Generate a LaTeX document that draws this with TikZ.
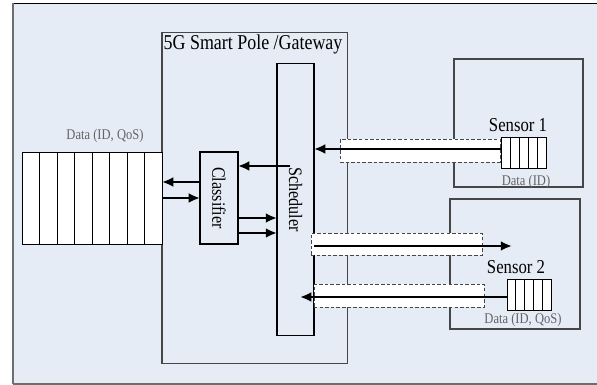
\documentclass[tikz,border=0pt]{standalone}
\usepackage{fontspec}
\setmainfont{Liberation Serif}[FakeStretch=0.85]
\usepackage{tikz}
\usetikzlibrary{arrows.meta}
\usepackage{xcolor}
\definecolor{paleblue}{RGB}{230,236,246}
\definecolor{framegray}{RGB}{110,110,110}
\definecolor{boxgray}{RGB}{70,70,70}
\definecolor{labelgray}{RGB}{100,100,100}

\tikzset{
  box/.style={draw=boxgray,line width=0.75pt,inner sep=0pt,outer sep=0pt},
  cell/.style={draw=black,fill=white,line width=0.6pt,inner sep=0pt,outer sep=0pt},
  linkbox/.style={draw=boxgray,fill=white,dashed,dash pattern=on 2.5pt off 1.5pt,line width=0.6pt,inner sep=0pt,outer sep=0pt},
  flow/.style={line width=2pt,-{Latex[length=8pt,width=7pt]}},
  title/.style={font=\fontsize{15}{17}\selectfont},
  sensorlabel/.style={font=\fontsize{14}{16}\selectfont},
  boxlabel/.style={font=\fontsize{13.5}{15}\selectfont},
  datalabel/.style={text=labelgray,font=\fontsize{10.5}{12}\selectfont}
}

\begin{document}
\begin{tikzpicture}[x=0.025cm,y=-0.025cm]
  \useasboundingbox (0,0) rectangle (597,385);

  % --- background and frame ---
  \fill[paleblue] (13,3) rectangle (597,384);
  \draw[black,line width=0.7pt] (13,3) -- (597,3);
  \draw[framegray,line width=1.4pt] (13,3) -- (13,384);
  \draw[framegray,line width=1pt] (13,384) -- (597,384);

  % --- gateway ---
  \node[box,minimum width=4.625cm,minimum height=8.25cm] (gw) at (254.5,198) {};
  \node[title,anchor=north west,inner sep=1pt] (gwtitle) at (gw.north west) {5G Smart Pole /Gateway};
  \node[box,boxlabel,draw=black,minimum width=0.925cm,minimum height=6.775cm] (sched) at (295.5,199.5)
    {\rotatebox{-90}{Scheduler}};
  \node[box,boxlabel,draw=black,minimum width=0.95cm,minimum height=2.3cm] (clf) at (219,198)
    {\rotatebox{-90}{Classifier}};

  % --- big queue ---
  \foreach \i in {0,...,7}{
    \node[cell,minimum width=0.4375cm,minimum height=2.3cm] (q\i) at ({22+17.5*(\i+0.5)},198) {};
  }
  \node[datalabel] (qlabel) at (105,136) {Data (ID, QoS)};

  % --- sensors ---
  \node[box,minimum width=3.225cm,minimum height=3.2cm] (s1) at (518.5,123) {};
  \node[box,minimum width=3.25cm,minimum height=3.25cm] (s2) at (515,264) {};
  \node[sensorlabel] (s1name) at (518,125) {Sensor 1};
  \node[sensorlabel] (s2name) at (516,267) {Sensor 2};
  \foreach \i in {0,...,4}{
    \node[cell,minimum width=0.225cm,minimum height=0.775cm] (a\i) at ({501+9*(\i+0.5)},152.5) {};
    \node[cell,minimum width=0.22cm,minimum height=0.775cm] (b\i) at ({507+8.8*(\i+0.5)},294.5) {};
  }
  \node[datalabel] (s1data) at (526,182) {Data (ID)};
  \node[datalabel] (s2data) at (523,320) {Data (ID, QoS)};

  % --- dashed links ---
  \node[linkbox,minimum width=4cm,minimum height=0.575cm] (link1) at (420,150.5) {};
  \node[linkbox,minimum width=4.275cm,minimum height=0.55cm] (link2) at (396.5,244) {};
  \node[linkbox,minimum width=4.25cm,minimum height=0.575cm] (link3) at (399,295.5) {};

  % --- arrows ---
  \coordinate (schedin) at (290,166);
  \coordinate (s2in) at (512,246);
  \coordinate (schedend) at (300,297);
  \draw[flow] (clf.west |- 0,182) -- (q7.east |- 0,182);
  \draw[flow] (q7.east |- 0,198) -- (clf.west |- 0,198);
  \draw[flow] (schedin) -- (clf.east |- schedin);
  \draw[flow] (clf.east |- 0,218) -- (sched.west |- 0,218);
  \draw[flow] (clf.east |- 0,233) -- (sched.west |- 0,233);
  \draw[flow] (a0.west |- 0,149) -- (sched.east |- 0,149);
  \draw[flow] (sched.east |- s2in) -- (s2in);
  \draw[flow] (b0.west |- schedend) -- (schedend);

\end{tikzpicture}
\end{document}
